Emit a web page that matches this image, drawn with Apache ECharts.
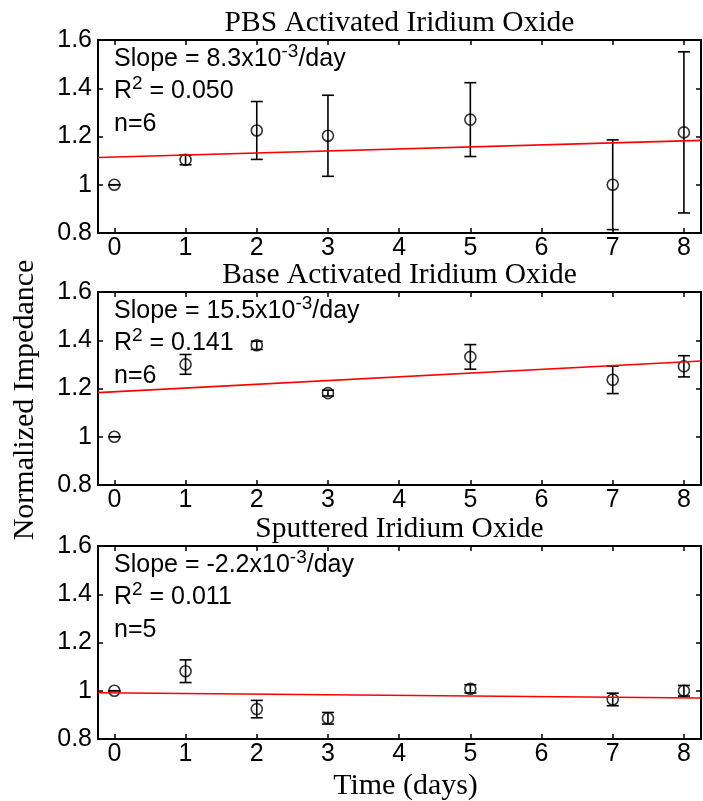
<!DOCTYPE html>
<html><head><meta charset="utf-8">
<script src="https://cdn.jsdelivr.net/npm/echarts@6/dist/echarts.min.js"></script>
<style>html,body{margin:0;padding:0;background:#fff}#c{width:703px;height:801px}</style>
</head><body><div id="c"></div>
<script>
// ---- data ----
const days = [0, 1, 2, 3, 5, 7, 8];
const xTicks = [0, 1, 2, 3, 4, 5, 6, 7, 8];
const yTicks = [0.8, 1.0, 1.2, 1.4, 1.6];

const pbsMean = [1.00, 1.103, 1.225, 1.203, 1.270, 1.00, 1.217];
const pbsErr  = [0.0, 0.02, 0.12, 0.168, 0.153, 0.186, 0.334];
const baseMean = [1.00, 1.300, 1.379, 1.181, 1.331, 1.236, 1.292];
const baseErr  = [0.0, 0.041, 0.017, 0.012, 0.051, 0.057, 0.044];
const sputMean = [1.00, 1.081, 0.924, 0.886, 1.008, 0.964, 1.00];
const sputErr  = [0.0, 0.047, 0.036, 0.024, 0.017, 0.026, 0.022];

const fitX = [-0.23, 8.24];
const pbsFit = [1.113, 1.184];
const baseFit = [1.183, 1.314];
const sputFit = [0.992, 0.970];

const titles = ['PBS Activated Iridium Oxide', 'Base Activated Iridium Oxide', 'Sputtered Iridium Oxide'];
const slopes = ['8.3', '15.5', '-2.2'];
const r2s = ['0.050', '0.141', '0.011'];
const ns = ['6', '6', '5'];
const xName = 'Time (days)';
const yName = 'Normalized Impedance';

const panels = [
  {mean: pbsMean, err: pbsErr, fit: pbsFit},
  {mean: baseMean, err: baseErr, fit: baseFit},
  {mean: sputMean, err: sputErr, fit: sputFit}
];

// ---- layout ----
const L = 98, GW = 603, GH = 193;
const tops = [40, 292, 546];
const SANS = 'Liberation Sans, Arial, sans-serif';
const SERIF = 'Liberation Serif, Times New Roman, serif';

const grid = [], xAxis = [], yAxis = [], series = [], graphic = [];
const lineS = {color: '#000', width: 2};
const tickS = {color: '#000', width: 1.5};

panels.forEach((p, i) => {
  grid.push({left: L, top: tops[i], width: GW, height: GH, containLabel: false});
  const xb = {gridIndex: i, type: 'value', min: fitX[0], max: fitX[1], position: 'bottom',
    axisLine: {show: true, onZero: false, lineStyle: lineS},
    axisTick: {show: true, inside: true, length: 5, customValues: xTicks, lineStyle: tickS},
    axisLabel: {show: true, customValues: xTicks, fontSize: 25, fontFamily: SANS, color: '#000', margin: 3},
    splitLine: {show: false}};
  const xt = Object.assign({}, xb, {position: 'top', axisLabel: {show: false}});
  xAxis.push(xb, xt);
  const yl = {gridIndex: i, type: 'value', min: 0.8, max: 1.6, interval: 0.2, position: 'left',
    axisLine: {show: true, onZero: false, lineStyle: lineS},
    axisTick: {show: true, inside: true, length: 5, lineStyle: tickS},
    axisLabel: {show: true, fontSize: 25, fontFamily: SANS, color: '#000', margin: 6,
      formatter: v => String(Math.round(v * 10) / 10)},
    splitLine: {show: false}};
  const yr = Object.assign({}, yl, {position: 'right', axisLabel: {show: false}});
  yAxis.push(yl, yr);

  const ebData = days.map((d, k) => [d, p.mean[k] - p.err[k], p.mean[k] + p.err[k]]);
  series.push({
    type: 'custom', xAxisIndex: 2 * i, yAxisIndex: 2 * i, data: ebData, z: 2,
    renderItem: (params, api) => {
      const x = api.value(0);
      const lo = api.coord([x, api.value(1)]);
      const hi = api.coord([x, api.value(2)]);
      const c = 6;
      const st = {stroke: '#000', lineWidth: 1.6};
      return {type: 'group', children: [
        {type: 'line', shape: {x1: lo[0], y1: lo[1], x2: hi[0], y2: hi[1]}, style: st},
        {type: 'line', shape: {x1: lo[0] - c, y1: lo[1], x2: lo[0] + c, y2: lo[1]}, style: st},
        {type: 'line', shape: {x1: hi[0] - c, y1: hi[1], x2: hi[0] + c, y2: hi[1]}, style: st}
      ]};
    }
  });
  series.push({
    type: 'scatter', xAxisIndex: 2 * i, yAxisIndex: 2 * i, z: 3,
    data: days.map((d, k) => [d, p.mean[k]]),
    symbol: 'circle', symbolSize: 11,
    itemStyle: {color: 'transparent', borderColor: '#000', borderWidth: 1.6}
  });
  series.push({
    type: 'line', xAxisIndex: 2 * i, yAxisIndex: 2 * i, z: 4,
    data: fitX.map((x, k) => [x, p.fit[k]]),
    symbol: 'none', lineStyle: {color: '#ff0000', width: 1.6}
  });

  // title
  graphic.push({type: 'text', x: L + GW / 2, y: tops[i] - 17,
    style: {text: titles[i], fontSize: 29.5, fontFamily: SERIF, fill: '#000', align: 'center', verticalAlign: 'middle'}});
  const rich = {
    m: {fontSize: 25, fontFamily: SANS, lineHeight: 30, verticalAlign: 'bottom', fill: '#000', color: '#000'},
    s: {fontSize: 19, fontFamily: SANS, lineHeight: 19, verticalAlign: 'top', fill: '#000', color: '#000'}
  };
  const lines = [
    '{m|Slope = ' + slopes[i] + 'x10}{s|-3}{m|/day}',
    '{m|R}{s|2}{m| = ' + r2s[i] + '}',
    '{m|n=' + ns[i] + '}'
  ];
  const offs = [17, 49, 82];
  lines.forEach((t, j) => {
    graphic.push({type: 'text', x: L + 16, y: tops[i] + offs[j],
      style: {text: t, rich: rich, fontSize: 25, fontFamily: SANS, fill: '#000', align: 'left', verticalAlign: 'middle'}});
  });
});

graphic.push({type: 'text', x: 25, y: 400, rotation: Math.PI / 2,
  style: {text: yName, fontSize: 30, fontFamily: SERIF, fill: '#000', align: 'center', verticalAlign: 'middle'}});
graphic.push({type: 'text', x: L + GW / 2 + 6, y: 786,
  style: {text: xName, fontSize: 30, fontFamily: SERIF, fill: '#000', align: 'center', verticalAlign: 'middle'}});

const chart = echarts.init(document.getElementById('c'), null, {renderer: 'canvas'});
chart.setOption({backgroundColor: '#fff', animation: false, grid, xAxis, yAxis, series, graphic});
</script></body></html>
